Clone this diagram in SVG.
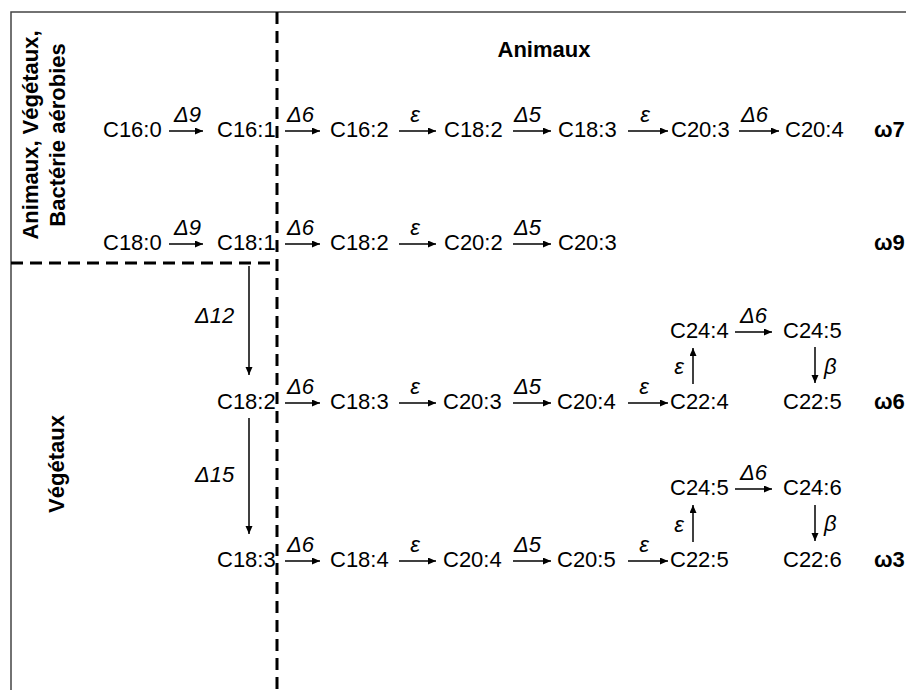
<svg xmlns="http://www.w3.org/2000/svg" width="906" height="690" viewBox="0 0 906 690">
<defs>
<marker id="ah" markerUnits="userSpaceOnUse" markerWidth="9" markerHeight="8" refX="8" refY="3.5" orient="auto">
<path d="M0,0 L8,3.5 L0,7 z" fill="#000"/>
</marker>
<style>
text{font-family:"Liberation Sans",Arial,sans-serif;font-size:22px;fill:#000}
.b{font-weight:bold}
.l{font-style:italic}
.m{text-anchor:middle}
.a{stroke:#000;stroke-width:1.5;fill:none;marker-end:url(#ah)}
.d{stroke:#000;stroke-width:3;stroke-dasharray:12 7;fill:none}
</style>
</defs>
<rect x="0" y="0" width="906" height="690" fill="#fff"/>
<g id="frame">
<path d="M11,690 V12 H906" stroke="#444" stroke-width="1.5" fill="none"/>
<path class="d" d="M277,12 V690"/>
<path class="d" d="M11,263 H277"/>
</g>
<g id="sections">
<text class="b m" x="544" y="57">Animaux</text>
<text class="b m" transform="translate(38,135) rotate(-90)">Animaux, Végétaux,</text>
<text class="b m" transform="translate(65,135) rotate(-90)">Bactérie aérobies</text>
<text class="b m" transform="translate(64,464) rotate(-90)">Végétaux</text>
</g>
<g id="n-r1-c160"><text x="103" y="137">C16:0</text></g>
<g id="n-r1-c161"><text x="217" y="137">C16:1</text></g>
<g id="n-r1-c162"><text x="330" y="137">C16:2</text></g>
<g id="n-r1-c182"><text x="444" y="137">C18:2</text></g>
<g id="n-r1-c183"><text x="558" y="137">C18:3</text></g>
<g id="n-r1-c203"><text x="671" y="137">C20:3</text></g>
<g id="n-r1-c204"><text x="785" y="137">C20:4</text></g>
<g id="n-r1-w7"><text class="b" x="874" y="137">ω7</text></g>
<g id="n-r2-c180"><text x="103" y="250">C18:0</text></g>
<g id="n-r2-c181"><text x="217" y="250">C18:1</text></g>
<g id="n-r2-c182"><text x="330" y="250">C18:2</text></g>
<g id="n-r2-c202"><text x="444" y="250">C20:2</text></g>
<g id="n-r2-c203"><text x="558" y="250">C20:3</text></g>
<g id="n-r2-w9"><text class="b" x="874" y="250">ω9</text></g>
<g id="n-r3-c182"><text x="217" y="409">C18:2</text></g>
<g id="n-r3-c183"><text x="330" y="409">C18:3</text></g>
<g id="n-r3-c203"><text x="443" y="409">C20:3</text></g>
<g id="n-r3-c204"><text x="557" y="409">C20:4</text></g>
<g id="n-r3-c224"><text x="670" y="409">C22:4</text></g>
<g id="n-r3-c225"><text x="783" y="409">C22:5</text></g>
<g id="n-r3-w6"><text class="b" x="874" y="409">ω6</text></g>
<g id="n-r3-c244"><text x="670" y="338">C24:4</text></g>
<g id="n-r3-c245"><text x="783" y="338">C24:5</text></g>
<g id="n-r4-c183"><text x="217" y="567">C18:3</text></g>
<g id="n-r4-c184"><text x="330" y="567">C18:4</text></g>
<g id="n-r4-c204"><text x="443" y="567">C20:4</text></g>
<g id="n-r4-c205"><text x="557" y="567">C20:5</text></g>
<g id="n-r4-c225"><text x="670" y="567">C22:5</text></g>
<g id="n-r4-c226"><text x="783" y="567">C22:6</text></g>
<g id="n-r4-w3"><text class="b" x="874" y="567">ω3</text></g>
<g id="n-r4-c245"><text x="670" y="495">C24:5</text></g>
<g id="n-r4-c246"><text x="783" y="495">C24:6</text></g>
<g id="connectors">
<path class="a" d="M169,131 H203"/><text class="l" x="174" y="122">Δ9</text>
<path class="a" d="M285,131 H320"/><text class="l" x="287" y="122">Δ6</text>
<path class="a" d="M399,131 H436"/><text class="l m" x="415" y="122">ε</text>
<path class="a" d="M513,131 H551"/><text class="l" x="514" y="122">Δ5</text>
<path class="a" d="M628,131 H668"/><text class="l m" x="645" y="122">ε</text>
<path class="a" d="M739,131 H779"/><text class="l" x="741" y="122">Δ6</text>
<path class="a" d="M169,244 H203"/><text class="l" x="174" y="235">Δ9</text>
<path class="a" d="M285,244 H320"/><text class="l" x="287" y="235">Δ6</text>
<path class="a" d="M399,244 H436"/><text class="l m" x="415" y="235">ε</text>
<path class="a" d="M513,244 H551"/><text class="l" x="514" y="235">Δ5</text>
<path class="a" d="M285,403 H320"/><text class="l" x="287" y="394">Δ6</text>
<path class="a" d="M399,403 H436"/><text class="l m" x="415" y="394">ε</text>
<path class="a" d="M513,403 H551"/><text class="l" x="514" y="394">Δ5</text>
<path class="a" d="M628,403 H668"/><text class="l m" x="644" y="394">ε</text>
<path class="a" d="M735,332 H772"/><text class="l" x="740" y="323">Δ6</text>
<path class="a" d="M285,561 H320"/><text class="l" x="287" y="552">Δ6</text>
<path class="a" d="M399,561 H436"/><text class="l m" x="415" y="552">ε</text>
<path class="a" d="M513,561 H551"/><text class="l" x="514" y="552">Δ5</text>
<path class="a" d="M628,561 H668"/><text class="l m" x="644" y="552">ε</text>
<path class="a" d="M735,489 H772"/><text class="l" x="740" y="480">Δ6</text>
<path class="a" d="M249,266 V375"/><text class="l" x="195" y="323">Δ12</text>
<path class="a" d="M249,418 V534"/><text class="l" x="195" y="482">Δ15</text>
<path class="a" d="M693,384 V348"/><text class="l m" x="679" y="374">ε</text>
<path class="a" d="M815,347 V383"/><text class="l" x="824" y="374">β</text>
<path class="a" d="M693,542 V505"/><text class="l m" x="679" y="532">ε</text>
<path class="a" d="M815,505 V541"/><text class="l" x="824" y="531">β</text>
</g>
</svg>
